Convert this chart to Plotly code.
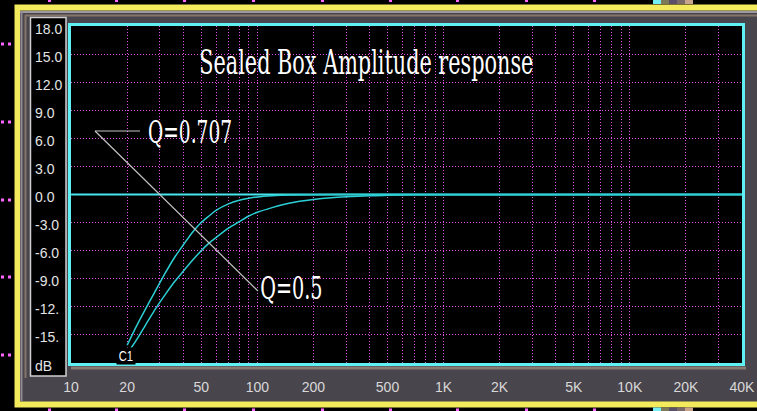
import math
import plotly.graph_objects as go

W, H = 757, 411

# Response readings: frequency (Hz) and level (dB)
freq_q707 = [20, 22, 25, 28, 32, 36, 40, 45, 50, 55, 60, 70, 80, 90, 100, 120, 150, 200, 300, 40000]
db_q707 = [-16.1, -14.4, -12.3, -10.5, -8.4, -6.7, -5.4, -4.0, -3.0, -2.3, -1.7, -1.0,
           -0.62, -0.4, -0.26, -0.13, -0.05, -0.02, 0.0, 0.0]

freq_q05 = [21, 23, 25, 28, 32, 36, 40, 45, 50, 55, 60, 70, 80, 90, 100, 120, 150, 200,
            250, 300, 400, 500, 700, 1000, 40000]
db_q05 = [-16.4, -15.2, -14.0, -12.4, -10.7, -9.3, -8.2, -7.0, -6.0, -5.2, -4.6, -3.6,
          -2.9, -2.3, -1.9, -1.4, -0.9, -0.53, -0.34, -0.24, -0.13, -0.09, -0.04, -0.02, 0.0]

# 0 dB reference
ref_freq = [10, 40000]
ref_db = [0, 0]

# Frequency grid lines and their labels
x_grid = [10, 20, 30, 40, 50, 60, 70, 80, 90,
          100, 200, 300, 400, 500, 600, 700, 800, 900,
          1000, 2000, 3000, 4000, 5000, 6000, 7000, 8000, 9000,
          10000, 20000, 30000, 40000]
x_label_map = {10: "10", 20: "20", 50: "50", 100: "100", 200: "200", 500: "500",
               1000: "1K", 2000: "2K", 5000: "5K", 10000: "10K", 20000: "20K", 40000: "40K"}

# Level grid and labels
y_ticks = [18, 15, 12, 9, 6, 3, 0, -3, -6, -9, -12, -15, -18]
y_text = ["18.0", "15.0", "12.0", "9.0", "6.0", "3.0", "0.0", "-3.0", "-6.0", "-9.0",
          "-12.", "-15.", "dB"]

title_text = "Sealed Box Amplitude response"
label_q707 = "Q=0.707"
label_q05 = "Q=0.5"
marker_text = "C1"


def px(x):
    return x / W


def py(y):
    return 1 - y / H


GRID = "#e24ee2"
CYAN_REF = "#48e6ec"
CYAN_CURVE = "#2ccfd4"

fig = go.Figure()
fig.add_trace(go.Scatter(x=ref_freq, y=ref_db, mode="lines",
                         line=dict(color=CYAN_REF, width=2), hoverinfo="skip"))
fig.add_trace(go.Scatter(x=freq_q05, y=db_q05, mode="lines",
                         line=dict(color=CYAN_CURVE, width=1.5, shape="spline", smoothing=0.8),
                         hoverinfo="skip"))
fig.add_trace(go.Scatter(x=freq_q707, y=db_q707, mode="lines",
                         line=dict(color=CYAN_CURVE, width=1.5, shape="spline", smoothing=0.8),
                         hoverinfo="skip"))

shapes = []


def rect(x0, y0, x1, y1, fill, layer="below", line_color=None, line_width=0):
    shapes.append(dict(type="rect", xref="paper", yref="paper",
                       x0=px(x0), x1=px(x1), y0=py(y1), y1=py(y0),
                       fillcolor=fill, layer=layer,
                       line=dict(color=line_color or fill, width=line_width)))


def seg(x0, y0, x1, y1, color, width, layer="below"):
    shapes.append(dict(type="line", xref="paper", yref="paper",
                       x0=px(x0), x1=px(x1), y0=py(y0), y1=py(y1), layer=layer,
                       line=dict(color=color, width=width)))


# outer yellow bezel and grey panel
rect(14.5, 4.5, 760, 407.5, "#f3ea5c")
rect(20, 10.5, 760, 401.5, "#49454d")
seg(20, 12, 757, 12, "#9d979e", 2)
seg(21.5, 11, 21.5, 401, "#8f8990", 2)
seg(25.5, 15, 25.5, 378, "#85776a", 2)
seg(25, 15.5, 757, 15.5, "#85776a", 2)
seg(71, 368, 746, 368, "#877c74", 3)
# level label box
rect(30.5, 17.5, 66, 376, "black", line_color="#cfcfcf", line_width=1.5)
# plot well
rect(68, 23, 745, 366, "black")
# cyan plot border
shapes.append(dict(type="rect", xref="paper", yref="paper",
                   x0=px(69.5), x1=px(743.5), y0=py(364.5), y1=py(24.5),
                   line=dict(color="#5ff0f4", width=3), layer="above"))

# leader lines for the curve labels
seg(95, 131, 140, 131, "#c4c4c4", 1.2, layer="above")
seg(95, 131, 258, 291, "#c4c4c4", 1.2, layer="above")

# ruler dots round the outside
for yy in [44, 122, 200, 277, 355]:
    rect(1, yy - 1.5, 4, yy + 1.5, "#ff66ff", layer="above")
    rect(8, yy - 1.5, 11, yy + 1.5, "#ff66ff", layer="above")
for xx in [50, 117, 185, 254, 323, 391, 458, 527, 595]:
    rect(xx - 2, 0, xx + 1, 2, "#ff66ff", layer="above")
    rect(xx - 2, 408.5, xx + 1, 411, "#ff66ff", layer="above")
# small coloured strips at top and bottom edges
for y0, y1 in [(0, 4), (407.5, 411)]:
    rect(653, y0, 661, y1, "#74eef2", layer="above")
    rect(661, y0, 669, y1, "#7d7a5a", layer="above")
    rect(669, y0, 677, y1, "#5a5068", layer="above")
    rect(677, y0, 685, y1, "#7a6a6a", layer="above")
    rect(685, y0, 693, y1, "#c8a58a", layer="above")

annotations = []
for v, t in zip(y_ticks, y_text):
    annotations.append(dict(text=t, xref="paper", yref="y", x=px(33), y=v,
                            xanchor="left", yanchor="middle", yshift=-2.5, showarrow=False,
                            font=dict(family="Liberation Sans", size=14, color="#e4e4e4")))

annotations.append(dict(text=title_text, xref="paper", yref="paper", x=px(366), y=py(62),
                        xanchor="center", yanchor="middle", showarrow=False,
                        font=dict(family="DejaVu Serif", size=33, color="white")))
annotations.append(dict(text=label_q707, xref="paper", yref="paper", x=px(190), y=py(132),
                        xanchor="center", yanchor="middle", showarrow=False,
                        font=dict(family="DejaVu Serif", size=31, color="white")))
annotations.append(dict(text=label_q05, xref="paper", yref="paper", x=px(291), y=py(288),
                        xanchor="center", yanchor="middle", showarrow=False,
                        font=dict(family="DejaVu Serif", size=31, color="white")))
annotations.append(dict(text=marker_text, xref="paper", yref="paper", x=px(126), y=py(355.5),
                        xanchor="center", yanchor="middle", showarrow=False,
                        bgcolor="black", borderpad=0,
                        font=dict(family="Liberation Sans", size=14, color="white")))

fig.update_layout(
    width=W, height=H,
    margin=dict(l=0, r=0, t=0, b=0, pad=0),
    paper_bgcolor="black", plot_bgcolor="black",
    showlegend=False,
    xaxis=dict(type="log", range=[0.9995, math.log10(40000) + 0.0005],
               domain=[px(71), px(742)],
               tickmode="array", tickvals=x_grid,
               ticktext=[x_label_map.get(v, "") for v in x_grid],
               showgrid=True, gridcolor=GRID, griddash="1px,2px", gridwidth=1,
               ticks="", showline=False, zeroline=False,
               tickfont=dict(family="Liberation Sans", size=14, color="#d8d8d8"),
               ticklabelstandoff=14, automargin=False, fixedrange=True),
    yaxis=dict(range=[-18, 18], domain=[py(363), py(26)],
               tickmode="array", tickvals=y_ticks, showticklabels=False,
               showgrid=True, gridcolor=GRID, griddash="1px,2px", gridwidth=1,
               ticks="", showline=False, zeroline=False,
               automargin=False, fixedrange=True),
    shapes=shapes,
    annotations=annotations,
)

# narrow the large serif captions horizontally
squeeze_js = """
var gd = document.getElementById('{plot_id}');
var factors = {'Sealed Box Amplitude response': 0.63, 'Q=0.707': 0.6, 'Q=0.5': 0.62, 'C1': 0.8};
function squeeze() {
  gd.querySelectorAll('g.annotation text.annotation-text').forEach(function (t) {
    var f = factors[t.textContent];
    if (f) {
      t.style.transformBox = 'fill-box';
      t.style.transformOrigin = 'center';
      t.style.transform = 'scaleX(' + f + ')';
    }
  });
}
squeeze();
gd.on('plotly_afterplot', squeeze);
"""

fig.write_html("out.html", config={"displayModeBar": False, "staticPlot": True},
               post_script=squeeze_js)
